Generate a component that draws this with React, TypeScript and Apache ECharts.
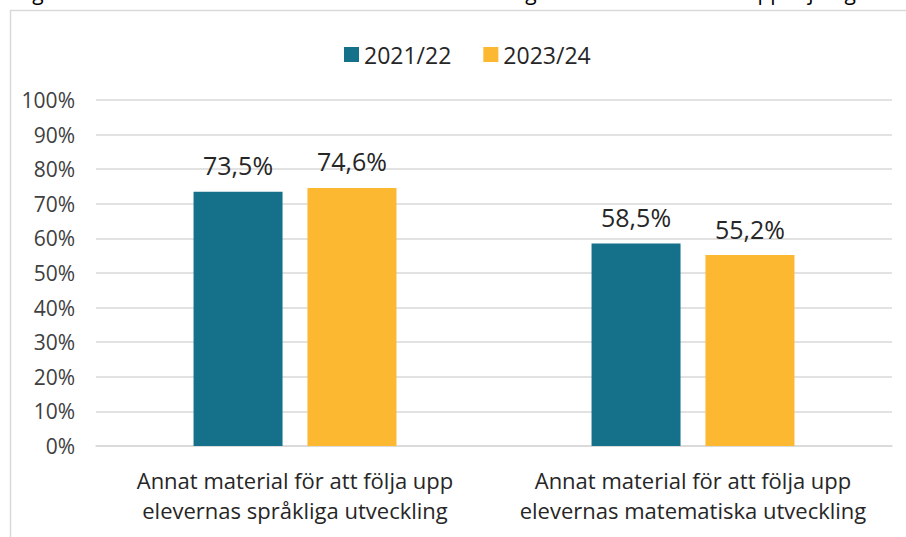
import React, { useEffect, useRef } from "react";
import * as echarts from "echarts";

const categories = [
  "Annat material för att följa upp\nelevernas språkliga utveckling",
  "Annat material för att följa upp\nelevernas matematiska utveckling",
];
const seriesNames = ["2021/22", "2023/24"];
const values2021 = [73.5, 58.5];
const values2023 = [74.6, 55.2];
const titleText =
  "Diagram 15. Andel lärare i årskurs 3 som använder något annat material för uppföljning";

const FONT = "'Open Sans', 'Noto Sans', sans-serif";

export default function App() {
  const ref = useRef<HTMLDivElement>(null);
  useEffect(() => {
    if (!ref.current) return;
    const chart = echarts.init(ref.current, undefined, { renderer: "svg" });
    const fmt = (p: any) => String(p.value).replace(".", ",") + "%";
    chart.setOption({
      animation: false,
      textStyle: { fontFamily: FONT },
      legend: {
        data: seriesNames,
        left: 339,
        top: 38,
        icon: "rect",
        itemWidth: 15,
        itemHeight: 15,
        itemGap: 32,
        textStyle: { fontSize: 23, color: "#262626", fontFamily: FONT },
      },
      graphic: [
        {
          type: "text",
          left: 0,
          top: -19,
          style: {
            text: titleText,
            fontSize: 21,
            fontFamily: FONT,
            fill: "#000",
          },
        },
        {
          type: "line",
          shape: { x1: 10, y1: 10.5, x2: 906, y2: 10.5 },
          style: { stroke: "#d9d9d9", lineWidth: 1.5 },
        },
        {
          type: "line",
          shape: { x1: 10.5, y1: 10, x2: 10.5, y2: 537 },
          style: { stroke: "#d9d9d9", lineWidth: 1.5 },
        },
      ],
      grid: { left: 96, right: 14, top: 100, bottom: 91, containLabel: false },
      xAxis: {
        type: "category",
        data: categories,
        axisLine: { show: true, lineStyle: { color: "#d9d9d9", width: 1.5 } },
        axisTick: { show: false },
        axisLabel: {
          interval: 0,
          hideOverlap: false,
          fontSize: 22,
          lineHeight: 30,
          color: "#262626",
          margin: 19,
          fontFamily: FONT,
        },
      },
      yAxis: {
        type: "value",
        min: 0,
        max: 100,
        interval: 10,
        axisLine: { show: false },
        axisTick: { show: false },
        axisLabel: {
          formatter: "{value}%",
          fontSize: 21,
          color: "#404040",
          margin: 21,
          fontFamily: FONT,
        },
        splitLine: { lineStyle: { color: "#d9d9d9", width: 1.5 } },
      },
      series: [
        {
          name: seriesNames[0],
          type: "bar",
          data: values2021,
          barWidth: 89,
          barGap: "28%",
          itemStyle: { color: "#15708A" },
          label: {
            show: true,
            position: "top",
            distance: 14,
            formatter: fmt,
            fontSize: 25,
            color: "#262626",
            fontFamily: FONT,
          },
        },
        {
          name: seriesNames[1],
          type: "bar",
          data: values2023,
          barWidth: 89,
          itemStyle: { color: "#FBB830" },
          label: {
            show: true,
            position: "top",
            distance: 14,
            formatter: fmt,
            fontSize: 25,
            color: "#262626",
            fontFamily: FONT,
          },
        },
      ],
    });
    return () => chart.dispose();
  }, []);
  return (
    <div
      ref={ref}
      style={{ position: "absolute", left: 0, top: 0, width: 906, height: 537, background: "#fff" }}
    />
  );
}
